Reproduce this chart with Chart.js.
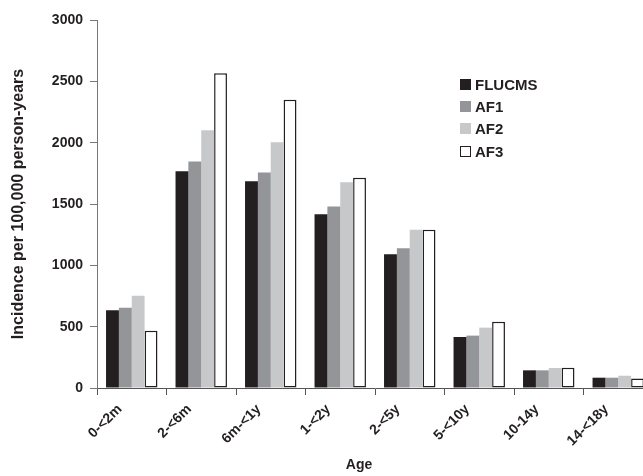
<!DOCTYPE html>
<html>
<head>
<meta charset="utf-8">
<script src="https://cdn.jsdelivr.net/npm/chart.js@4/dist/chart.umd.min.js"></script>
<style>
  html, body { margin: 0; padding: 0; background: #fff; overflow: hidden; width: 643px; height: 476px; }
  #wrap { position: relative; width: 656px; height: 476px; }
  #legend { position: absolute; left: 460px; top: 73px; font-family: "Liberation Sans", Arial, sans-serif; font-weight: bold; font-size: 15px; color: #231f20; }
  #legend .row { display: flex; align-items: center; height: 22.3px; }
  #legend .sw { width: 11px; height: 11px; box-sizing: border-box; margin-right: 4px; }
  #xtitle { position: absolute; left: 97px; width: 524px; top: 456px; text-align: center; font-family: "Liberation Sans", Arial, sans-serif; font-weight: bold; font-size: 14px; color: #231f20; }
</style>
</head>
<body>
<div id="wrap">
  <canvas id="chart"></canvas>
  <div id="legend"></div>
  <div id="xtitle"></div>
</div>
<script>
// Age groups on the x axis
const categories = ['0-<2m', '2-<6m', '6m-<1y', '1-<2y', '2-<5y', '5-<10y', '10-14y', '14-<18y'];
const xTitle = 'Age';
const yTitle = 'Incidence per 100,000 person-years';

// Incidence per 100,000 person-years, one array per method
const seriesNames = ['FLUCMS', 'AF1', 'AF2', 'AF3'];
const flucms = [633, 1767, 1685, 1416, 1090, 416, 144, 84];
const af1    = [655, 1846, 1756, 1479, 1139, 427, 144, 84];
const af2    = [753, 2101, 2003, 1677, 1291, 492, 163, 100];
const af3    = [467, 2566, 2349, 1715, 1291, 541, 166, 78];

// y axis range and tick step
const yMin = 0, yMax = 3000, yStep = 500;

const ink = '#231f20';
const fills = [ink, '#939598', '#c7c8ca', '#ffffff'];
const borders = [ink, '#939598', '#c7c8ca', ink];
const borderWidths = [0, 0, 0, 1.5];
const values = [flucms, af1, af2, af3];

const font = { family: '"Liberation Sans", Arial, sans-serif', weight: 'bold' };

const datasets = seriesNames.map((name, i) => ({
  label: name,
  data: values[i],
  backgroundColor: fills[i],
  borderColor: borders[i],
  borderWidth: borderWidths[i],
  borderSkipped: false,
  barPercentage: 1.0,
  categoryPercentage: 0.74
}));

new Chart(document.getElementById('chart'), {
  type: 'bar',
  data: { labels: categories, datasets },
  options: {
    responsive: true,
    maintainAspectRatio: false,
    animation: false,
    layout: { padding: { left: 5, right: 3, top: 20, bottom: 0 } },
    plugins: { legend: { display: false }, tooltip: { enabled: false } },
    scales: {
      x: {
        grid: { offset: true, drawOnChartArea: false, tickLength: 7, tickColor: '#555', tickWidth: 1 },
        border: { color: '#555', width: 1 },
        ticks: {
          color: ink, font: { ...font, size: 14 },
          minRotation: 45, maxRotation: 45, padding: 6, labelOffset: -12, autoSkip: false
        },
        afterFit: s => { s.height = 88; }
      },
      y: {
        min: yMin, max: yMax,
        grid: { drawOnChartArea: false, tickLength: 7, tickColor: '#777', tickWidth: 1 },
        border: { color: '#777', width: 1 },
        ticks: { stepSize: yStep, color: ink, font: { ...font, size: 14 }, padding: 7, callback: v => String(v) },
        title: { display: true, text: yTitle, color: ink, font: { ...font, size: 16 }, padding: { top: 4, bottom: 4 } },
        afterFit: s => { s.width = 92; }
      }
    }
  }
});

document.getElementById('xtitle').textContent = xTitle;

// Legend built from the same series names and colours
const legend = document.getElementById('legend');
seriesNames.forEach((name, i) => {
  const row = document.createElement('div');
  row.className = 'row';
  const sw = document.createElement('span');
  sw.className = 'sw';
  sw.style.background = fills[i];
  if (borderWidths[i] > 0) sw.style.border = '1.5px solid ' + ink;
  row.appendChild(sw);
  row.appendChild(document.createTextNode(name));
  legend.appendChild(row);
});
</script>
</body>
</html>
